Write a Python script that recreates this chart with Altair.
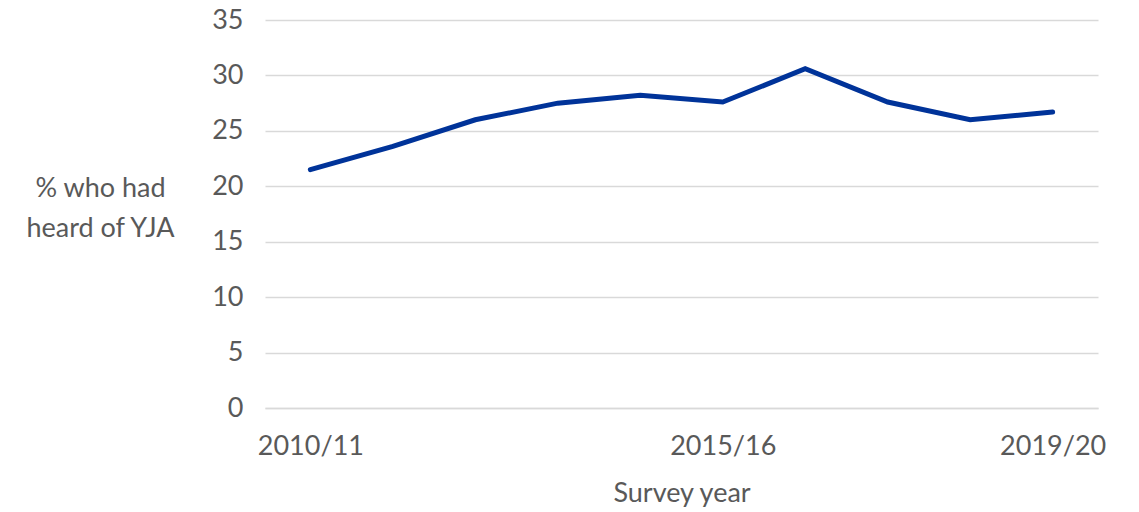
import altair as alt
import pandas as pd

years = ["2010/11", "2011/12", "2012/13", "2013/14", "2014/15",
         "2015/16", "2016/17", "2017/18", "2018/19", "2019/20"]
pct_heard = [21.5, 23.6, 26.0, 27.5, 28.2, 27.6, 30.6, 27.6, 26.0, 26.7]
shown_labels = ["2010/11", "2015/16", "2019/20"]
y_ticks = [0, 5, 10, 15, 20, 25, 30, 35]

df = pd.DataFrame({"year": years, "pct": pct_heard})

FONT = "Lato"
GREY = "#595959"
FS = 27

chart = alt.Chart(df).mark_line(color="#003399", strokeWidth=5, strokeCap="round", strokeJoin="miter").encode(
    x=alt.X("year:N", sort=years,
            scale=alt.Scale(type="point", padding=0.55),
            axis=alt.Axis(title="Survey year", values=shown_labels, labelAngle=0,
                          ticks=False, domain=True, domainColor="#d9d9d9", domainWidth=1.5,
                          labelFontSize=FS, labelColor=GREY, labelFont=FONT, labelPadding=25,
                          titleFontSize=FS, titleColor=GREY, titleFont=FONT, titleFontWeight="normal",
                          titlePadding=21, grid=False)),
    y=alt.Y("pct:Q", scale=alt.Scale(domain=[0, 35], nice=False),
            axis=alt.Axis(title=["% who had", "heard of YJA"], values=y_ticks, titleAngle=0,
                          titleX=-165, titleY=168, titleAlign="center", titleBaseline="middle",
                          titleLineHeight=40,
                          ticks=False, domain=False, grid=True, gridColor="#d9d9d9", gridWidth=1.5,
                          labelFontSize=FS, labelColor=GREY, labelFont=FONT, labelPadding=22,
                          titleFontSize=FS, titleColor=GREY, titleFont=FONT, titleFontWeight="normal"))
).properties(
    width=833, height=388,
    autosize=alt.AutoSizeParams(type="none"),
    padding={"left": 257, "top": 12, "right": 30, "bottom": 102}
).configure(background="white").configure_view(stroke=None, strokeWidth=0)

chart.save("out.html", embed_options={"renderer": "svg", "actions": False})
